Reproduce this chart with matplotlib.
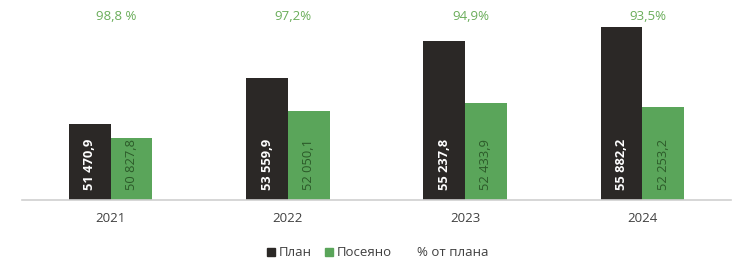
import matplotlib
matplotlib.use("Agg")
import matplotlib.pyplot as plt
import numpy as np
from matplotlib.patches import Patch

plt.rcParams['font.family'] = ['Open Sans', 'DejaVu Sans']

years = ['2021', '2022', '2023', '2024']
plan_labels = ['51 470,9', '53 559,9', '55 237,8', '55 882,2']
sown_labels = ['50 827,8', '52 050,1', '52 433,9', '52 253,2']
pct_labels = ['98,8 %', '97,2%', '94,9%', '93,5%']
# bar heights as drawn in the reference (chart scale units)
plan_heights = [75.5, 121.5, 158.5, 172.5]
sown_heights = [61.5, 88.5, 96.5, 92.5]

c_plan = '#2b2826'
c_sown = '#5aa55a'
c_pct = '#6aad5a'
c_sown_txt = '#2c5a29'

fig = plt.figure(figsize=(7.5, 2.71), dpi=100)
ax = fig.add_axes([22/750, (271-199.5)/271, (731-22)/750, 199.5/271])

x = np.arange(len(years))
w = 0.235
ax.bar(x - w/2, plan_heights, w, color=c_plan)
ax.bar(x + w/2, sown_heights, w, color=c_sown)

for i in range(len(years)):
    ax.text(x[i] - w/2, 9, plan_labels[i], rotation=90, ha='center', va='bottom',
            color='white', fontsize=9.3, fontweight='bold')
    ax.text(x[i] + w/2, 9, sown_labels[i], rotation=90, ha='center', va='bottom',
            color=c_sown_txt, fontsize=9.3)
    ax.text(x[i] + 0.03, 0.915, pct_labels[i], transform=ax.get_xaxis_transform(),
            ha='center', va='center', color=c_pct, fontsize=9.5)

ax.set_xlim(-0.5, 3.5)
ax.set_ylim(0, 199.5)
ax.set_xticks(x)
ax.set_xticklabels(years, fontsize=9.5, color='#404040')
ax.tick_params(axis='x', length=0, pad=9)
ax.set_yticks([])
for s in ['top', 'right', 'left']:
    ax.spines[s].set_visible(False)
ax.spines['bottom'].set_color('#d0d0d0')
ax.spines['bottom'].set_linewidth(1.2)

handles = [Patch(color=c_plan, label='План'),
           Patch(color=c_sown, label='Посеяно'),
           Patch(color='none', label='% от плана')]
fig.legend(handles=handles, loc='center', bbox_to_anchor=(378/750, 1 - 253/271),
           ncol=3, frameon=False, fontsize=9.5, handlelength=0.6, handleheight=0.6,
           handletextpad=0.3, columnspacing=1.0, labelcolor='#404040')

fig.savefig('out.png', dpi=100)
